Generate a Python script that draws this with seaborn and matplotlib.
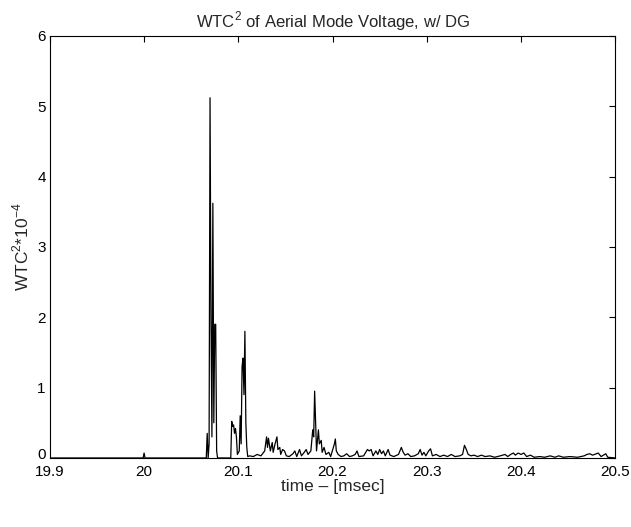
import matplotlib
matplotlib.use("Agg")
import matplotlib.pyplot as plt
import matplotlib.transforms as mtransforms
import seaborn as sns
import pandas as pd

# time in msec, WTC^2 scaled by 1e-4
time_ms = [
    19.900, 19.999, 20.000, 20.001, 20.066, 20.067, 20.068, 20.069, 20.070, 20.071,
    20.072, 20.073, 20.074, 20.075, 20.076, 20.077, 20.078, 20.092, 20.093, 20.094,
    20.095, 20.096, 20.097, 20.098, 20.099, 20.101, 20.102, 20.103, 20.104, 20.105,
    20.106, 20.107, 20.108, 20.109, 20.110, 20.112, 20.116, 20.120, 20.124, 20.128,
    20.130, 20.131, 20.132, 20.134, 20.136, 20.137, 20.139, 20.141, 20.142, 20.144,
    20.145, 20.147, 20.149, 20.151, 20.154, 20.158, 20.160, 20.162, 20.165, 20.167,
    20.170, 20.172, 20.174, 20.177, 20.179, 20.180, 20.181, 20.182, 20.183, 20.185,
    20.186, 20.188, 20.189, 20.191, 20.193, 20.196, 20.198, 20.202, 20.203, 20.204,
    20.206, 20.209, 20.212, 20.215, 20.218, 20.221, 20.224, 20.226, 20.228, 20.233,
    20.237, 20.239, 20.241, 20.243, 20.246, 20.248, 20.250, 20.252, 20.254, 20.256,
    20.259, 20.261, 20.265, 20.270, 20.273, 20.275, 20.277, 20.280, 20.283, 20.287,
    20.291, 20.293, 20.295, 20.297, 20.299, 20.302, 20.304, 20.306, 20.310, 20.314,
    20.318, 20.322, 20.326, 20.330, 20.335, 20.338, 20.340, 20.342, 20.344, 20.347,
    20.350, 20.354, 20.358, 20.362, 20.367, 20.372, 20.378, 20.383, 20.386, 20.389,
    20.392, 20.394, 20.397, 20.400, 20.403, 20.406, 20.410, 20.414, 20.420, 20.425,
    20.431, 20.436, 20.440, 20.445, 20.452, 20.460, 20.467, 20.470, 20.473, 20.476,
    20.480, 20.482, 20.485, 20.490, 20.492, 20.500,
]
wtc2 = [
    0.00, 0.00, 0.07, 0.00, 0.00, 0.35, 0.00, 0.20, 5.12, 2.00,
    0.30, 3.62, 0.50, 1.90, 1.90, 0.10, 0.00, 0.00, 0.52, 0.45,
    0.47, 0.35, 0.42, 0.30, 0.05, 0.10, 0.60, 0.20, 1.30, 1.42,
    0.90, 1.80, 0.50, 0.15, 0.02, 0.03, 0.02, 0.05, 0.03, 0.10,
    0.30, 0.15, 0.28, 0.10, 0.22, 0.08, 0.20, 0.30, 0.12, 0.15,
    0.05, 0.12, 0.10, 0.03, 0.02, 0.06, 0.10, 0.02, 0.12, 0.03,
    0.08, 0.12, 0.05, 0.10, 0.40, 0.30, 0.95, 0.50, 0.10, 0.40,
    0.20, 0.25, 0.08, 0.15, 0.05, 0.08, 0.02, 0.20, 0.27, 0.10,
    0.05, 0.02, 0.03, 0.06, 0.02, 0.03, 0.05, 0.10, 0.02, 0.03,
    0.12, 0.10, 0.12, 0.03, 0.10, 0.05, 0.12, 0.06, 0.10, 0.03,
    0.12, 0.04, 0.02, 0.05, 0.15, 0.08, 0.04, 0.06, 0.02, 0.03,
    0.06, 0.12, 0.04, 0.08, 0.03, 0.10, 0.13, 0.03, 0.05, 0.02,
    0.04, 0.02, 0.05, 0.02, 0.03, 0.05, 0.18, 0.12, 0.05, 0.03,
    0.04, 0.02, 0.04, 0.02, 0.03, 0.01, 0.03, 0.05, 0.02, 0.05,
    0.07, 0.04, 0.07, 0.05, 0.07, 0.02, 0.04, 0.01, 0.02, 0.01,
    0.03, 0.01, 0.03, 0.01, 0.02, 0.01, 0.03, 0.05, 0.06, 0.04,
    0.06, 0.07, 0.02, 0.06, 0.01, 0.00,
]
x_ticks = [19.9, 20.0, 20.1, 20.2, 20.3, 20.4, 20.5]
x_tick_labels = ["19.9", "20", "20.1", "20.2", "20.3", "20.4", "20.5"]
y_ticks = [0, 1, 2, 3, 4, 5, 6]

df = pd.DataFrame({"time": time_ms, "wtc2": wtc2})

sns.set_style("white")
plt.rcParams["font.family"] = ["Liberation Sans", "DejaVu Sans"]
plt.rcParams["mathtext.fontset"] = "custom"
plt.rcParams["mathtext.rm"] = "Liberation Sans"

fig = plt.figure(figsize=(6.31, 5.27), dpi=100)
ax = fig.add_axes([0.079, 0.131, 0.896, 0.801])

sns.lineplot(data=df, x="time", y="wtc2", color="black", linewidth=0.9,
             estimator=None, ax=ax)

ax.set_xlim(19.9, 20.5)
ax.set_ylim(0, 6)
ax.set_xticks(x_ticks)
ax.set_xticklabels(x_tick_labels)
ax.set_yticks(y_ticks)
ax.tick_params(direction="in", top=True, right=True, length=4, width=0.8,
               labelsize=11, colors="black")
ax.tick_params(axis="x", pad=5)
ax.tick_params(axis="y", pad=3)
for s in ax.spines.values():
    s.set_color("black")
    s.set_linewidth(0.8)

# nudge the "0" y label up a bit so it clears "19.9"
lbl0 = ax.get_yticklabels()[0]
lbl0.set_transform(lbl0.get_transform() +
                   mtransforms.ScaledTranslation(0, 4 / 100, fig.dpi_scale_trans))

ax.set_title(r"WTC$^{2}$ of Aerial Mode Voltage, w/ DG", fontsize=12, pad=6)
ax.set_xlabel("time \u2013 [msec]", fontsize=12.5, labelpad=0)
ax.set_ylabel(r"WTC$^{2}$*10$^{-4}$", fontsize=12.5, labelpad=4)

fig.savefig("out.png", dpi=100)
